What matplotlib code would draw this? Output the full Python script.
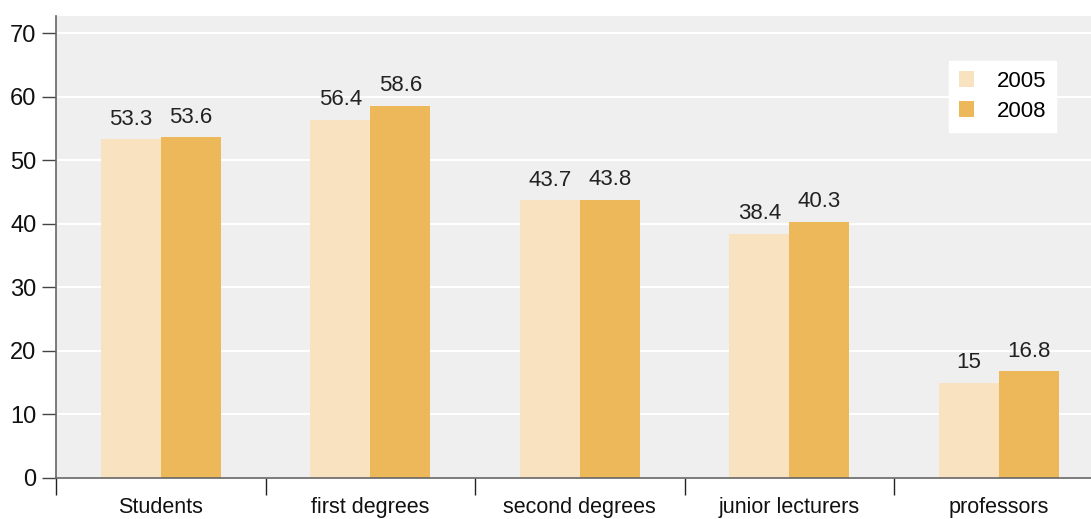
import matplotlib.pyplot as plt
import numpy as np

plt.rcParams['font.family'] = ['Liberation Sans', 'DejaVu Sans']

categories = ["Students", "first degrees", "second degrees", "junior lecturers", "professors"]
values_2005 = [53.3, 56.4, 43.7, 38.4, 15]
values_2008 = [53.6, 58.6, 43.8, 40.3, 16.8]
labels_2005 = ["53.3", "56.4", "43.7", "38.4", "15"]
labels_2008 = ["53.6", "58.6", "43.8", "40.3", "16.8"]

c_light = "#f8e2bf"
c_dark = "#edb85a"

fig = plt.figure(figsize=(10.91, 5.19), dpi=100)
ax = fig.add_axes([56 / 1091, 1 - 478 / 519, 1 - 56 / 1091, (478 - 16) / 519])
ax.set_facecolor("#efefef")

x = np.arange(len(categories))
w = 0.286
b1 = ax.bar(x - w / 2, values_2005, w, color=c_light, label="2005", zorder=2)
b2 = ax.bar(x + w / 2, values_2008, w, color=c_dark, label="2008", zorder=2)

for rect, lab in zip(b1, labels_2005):
    ax.text(rect.get_x() + rect.get_width() / 2, rect.get_height() + 1.5, lab,
            ha="center", va="bottom", fontsize=16, color="#222222")
for rect, lab in zip(b2, labels_2008):
    ax.text(rect.get_x() + rect.get_width() / 2, rect.get_height() + 1.5, lab,
            ha="center", va="bottom", fontsize=16, color="#222222")

ax.set_xlim(-0.5, 4.44)
ax.set_ylim(0, 72.7)
ax.set_yticks(np.arange(0, 71, 10))
ax.yaxis.grid(True, color="white", linewidth=1.5, zorder=1)
ax.set_axisbelow(True)

ax.set_xticks(np.arange(-0.5, 4.0, 1.0))
ax.set_xticklabels([])
ax.set_xticks(x, minor=True)
ax.set_xticklabels(categories, minor=True)
ax.tick_params(axis="x", which="major", length=12, width=1, color="#222222", direction="out")
ax.tick_params(axis="x", which="minor", length=0, pad=14, labelsize=15.5, labelcolor="#111111")
ax.tick_params(axis="y", length=10, width=1, color="#444444", labelsize=17, pad=4,
               labelcolor="#111111")

for s in ["top", "right"]:
    ax.spines[s].set_visible(False)
ax.spines["left"].set_color("#666666")
ax.spines["bottom"].set_color("#666666")
ax.spines["left"].set_linewidth(1.2)
ax.spines["bottom"].set_linewidth(1.2)

leg = ax.legend(loc="upper right", bbox_to_anchor=((1056 - 56) / 1035, 1 - (61 - 16) / 462),
                frameon=True, fancybox=False, fontsize=16, handlelength=0.7, handleheight=0.7,
                handletextpad=1.0, borderpad=0.45, labelspacing=0.4, borderaxespad=0)
leg.get_frame().set_edgecolor("white")
leg.get_frame().set_facecolor("white")
leg.get_frame().set_alpha(1)

fig.savefig("out.png", dpi=100)
